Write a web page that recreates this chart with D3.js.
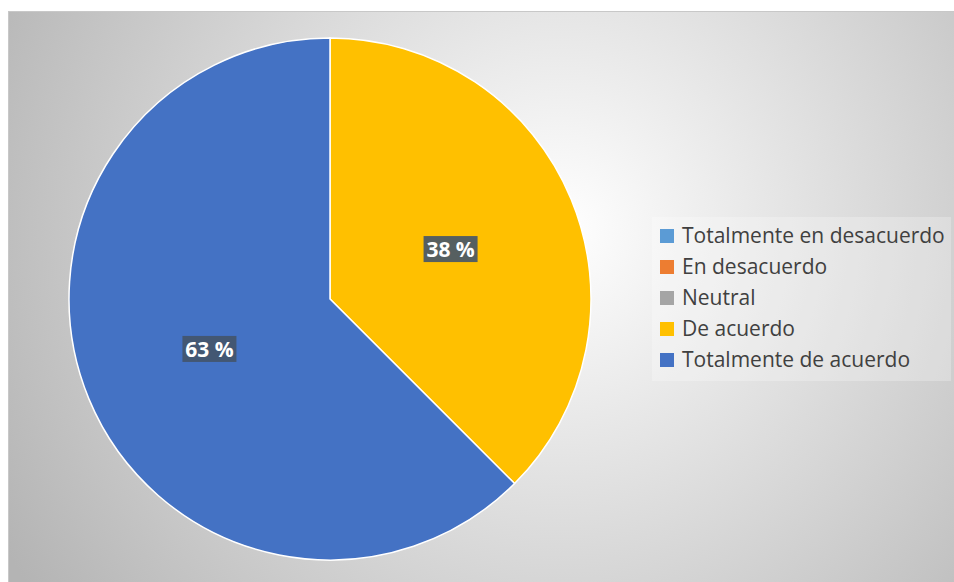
<!DOCTYPE html>
<html>
<head>
<meta charset="utf-8">
<script src="https://cdn.jsdelivr.net/npm/d3@7"></script>
<style>
  html, body { margin: 0; padding: 0; background: #ffffff; }
  svg { display: block; }
</style>
</head>
<body>
<svg id="chart" width="954" height="582"></svg>
<script>
// Survey response shares (percent)
const categories = ["Totalmente en desacuerdo", "En desacuerdo", "Neutral", "De acuerdo", "Totalmente de acuerdo"];
const shares = [0, 0, 0, 37.5, 62.5];
const colors = ["#5b9bd5", "#ed7d31", "#a5a5a5", "#ffc000", "#4472c4"];

const svg = d3.select("#chart");
const W = 954, H = 582;

// Chart area background: soft radial gradient
const defs = svg.append("defs");
const grad = defs.append("radialGradient")
  .attr("id", "bg")
  .attr("gradientUnits", "userSpaceOnUse")
  .attr("cx", 560).attr("cy", 230).attr("r", 640);
grad.append("stop").attr("offset", "0%").attr("stop-color", "#ffffff");
grad.append("stop").attr("offset", "100%").attr("stop-color", "#b4b4b4");

svg.append("rect")
  .attr("x", 8.5).attr("y", 11.5)
  .attr("width", W - 8).attr("height", H - 11)
  .attr("fill", "url(#bg)")
  .attr("stroke", "#c8c8c8").attr("stroke-width", 1);

// Pie
const cx = 330, cy = 299, R = 261;
const color = d3.scaleOrdinal().domain(categories).range(colors);
const pie = d3.pie().sort(null).value(d => d.v);
const data = categories.map((c, i) => ({ c, v: shares[i] }));
const arcs = pie(data);
const arc = d3.arc().innerRadius(0).outerRadius(R);

const g = svg.append("g").attr("transform", `translate(${cx},${cy})`);
g.selectAll("path.slice")
  .data(arcs.filter(a => a.data.v > 0))
  .join("path")
  .attr("class", "slice")
  .attr("d", arc)
  .attr("fill", d => color(d.data.c))
  .attr("stroke", "#ffffff")
  .attr("stroke-width", 1.5);

// Percentage labels on dark boxes
const labelArc = d3.arc().innerRadius(R * 0.5).outerRadius(R * 0.5);
const fmt = v => Math.round(v) + " %";
const labels = g.selectAll("g.lbl")
  .data(arcs.filter(a => a.data.v > 0))
  .join("g")
  .attr("class", "lbl")
  .attr("transform", d => {
    const [x, y] = labelArc.centroid(d);
    return `translate(${x},${y})`;
  });
labels.append("rect")
  .attr("x", -27).attr("y", -13)
  .attr("width", 54).attr("height", 26)
  .attr("fill", "#44546a")
  .attr("fill-opacity", 0.9);
labels.append("text")
  .attr("text-anchor", "middle")
  .attr("dy", "0.36em")
  .attr("fill", "#ffffff")
  .attr("font-family", "'Open Sans', Lato, sans-serif")
  .attr("font-weight", "bold")
  .attr("font-size", 21)
  .text(d => fmt(d.data.v));

// Legend
const lg = svg.append("g");
lg.append("rect")
  .attr("x", 652).attr("y", 217)
  .attr("width", 299).attr("height", 164)
  .attr("fill", "#ffffff").attr("fill-opacity", 0.25);
const rows = lg.selectAll("g.row")
  .data(categories)
  .join("g")
  .attr("class", "row")
  .attr("transform", (d, i) => `translate(660,${236 + i * 31})`);
rows.append("rect")
  .attr("x", 0).attr("y", -7)
  .attr("width", 14).attr("height", 14)
  .attr("fill", d => color(d));
rows.append("text")
  .attr("x", 22)
  .attr("dy", "0.35em")
  .attr("fill", "#404040")
  .attr("font-family", "'Open Sans', Lato, sans-serif")
  .attr("font-size", 21)
  .text(d => d);
</script>
</body>
</html>
